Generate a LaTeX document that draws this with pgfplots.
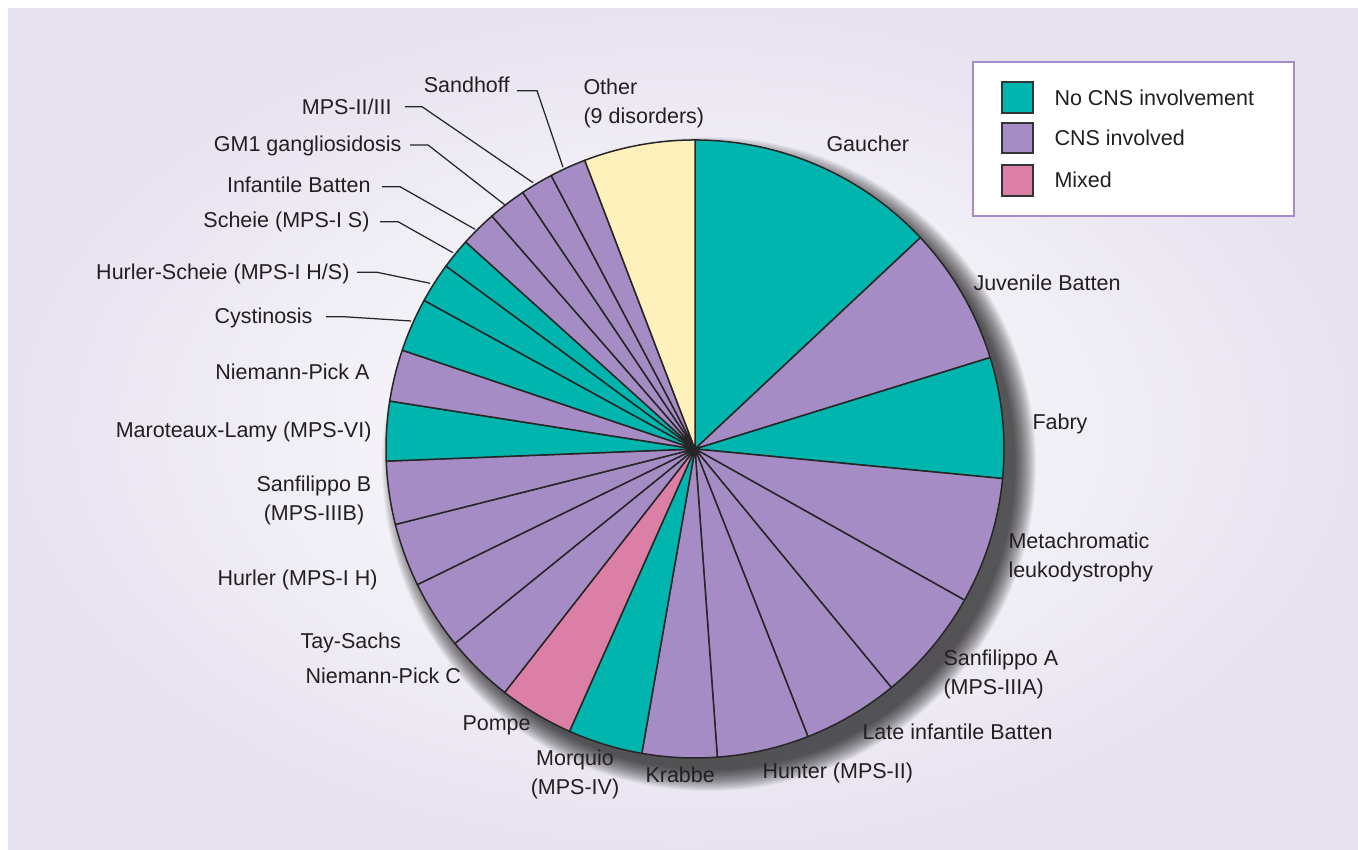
\documentclass[border=0pt]{standalone}
\usepackage{pgfplots}
\pgfplotsset{compat=1.18}
\usepackage{pgfplotstable}
\usepackage{fontspec}
\setmainfont{Liberation Sans}
\definecolor{cnone}{RGB}{0,181,173}
\definecolor{ccns}{RGB}{166,140,196}
\definecolor{cmix}{RGB}{220,127,166}
\definecolor{cother}{RGB}{255,241,187}
\definecolor{bglav}{RGB}{231,227,240}
\definecolor{legframe}{RGB}{165,140,200}
\definecolor{txt}{RGB}{35,31,32}

% share of each disorder (percent), clockwise from 12 o'clock
\pgfplotstableread[col sep=comma]{
name,share,group
Gaucher,13.0,cnone
Juvenile Batten,7.2,ccns
Fabry,6.3,cnone
Metachromatic leukodystrophy,6.6,ccns
Sanfilippo A (MPS-IIIA),5.9,ccns
Late infantile Batten,5.0,ccns
Hunter (MPS-II),4.8,ccns
Krabbe,3.9,ccns
Morquio (MPS-IV),3.9,cnone
Pompe,3.9,cmix
Niemann-Pick C,3.6,ccns
Tay-Sachs,3.6,ccns
Hurler (MPS-I H),3.3,ccns
Sanfilippo B (MPS-IIIB),3.3,ccns
Maroteaux-Lamy (MPS-VI),3.1,cnone
Niemann-Pick A,2.7,ccns
Cystinosis,2.8,cnone
Hurler-Scheie (MPS-I H/S),2.1,cnone
Scheie (MPS-I S),1.6,cnone
Infantile Batten,1.9,ccns
GM1 gangliosidosis,2.0,ccns
MPS-II/III,1.7,ccns
Sandhoff,1.9,ccns
Other (9 disorders),5.8,cother
}\piedata

\begin{document}
\xdef\pietotal{0}%
\pgfplotstableforeachcolumnelement{share}\of\piedata\as\v{%
  \pgfmathsetmacro\tmp{\pietotal+\v}\xdef\pietotal{\tmp}}%
\xdef\piecum{0}%
\pgfplotstableforeachcolumnelement{share}\of\piedata\as\v{%
  \pgfmathsetmacro\tmpa{90-(\piecum/\pietotal)*360}%
  \pgfmathsetmacro\tmpc{\piecum+\v}%
  \pgfmathsetmacro\tmpb{90-(\tmpc/\pietotal)*360}%
  \expandafter\xdef\csname pieA\pgfplotstablerow\endcsname{\tmpa}%
  \expandafter\xdef\csname pieB\pgfplotstablerow\endcsname{\tmpb}%
  \xdef\piecum{\tmpc}}%
\pgfplotstableforeachcolumnelement{group}\of\piedata\as\g{%
  \expandafter\xdef\csname pieC\pgfplotstablerow\endcsname{\g}}%
\begin{tikzpicture}[every node/.style={font=\fontsize{8.6}{11.6}\selectfont, text=txt, inner sep=0pt}]
\begin{axis}[
  width=543.2pt, height=340pt, scale only axis,
  xmin=0, xmax=1358, ymin=0, ymax=850,
  enlargelimits=false, axis lines=none, clip=false,
  xtick=\empty, ytick=\empty]
% background
\fill[white] (axis cs:0,0) rectangle (axis cs:1358,850);
\fill[bglav] (axis cs:8,0) rectangle (axis cs:1358,841);
\shade[inner color=white, outer color=bglav] (axis cs:8,0) rectangle (axis cs:1358,841);
% soft shadow (down-right)
\pgfplotsinvokeforeach{0,...,21}{%
  \fill[black, opacity=0.042] (axis cs:709,386) circle[radius={(305+1.0*(22-#1))*0.4pt}];
}
% wedges
\pgfplotsinvokeforeach{0,...,23}{%
  \filldraw[fill=\csname pieC#1\endcsname, draw=black!85, line width=0.6pt, line join=round]
   (axis cs:695,401) -- ++(\csname pieA#1\endcsname:123.6pt)
   arc[start angle=\csname pieA#1\endcsname, end angle=\csname pieB#1\endcsname, radius=123.6pt] -- cycle;
}
% leader lines
\begin{scope}[draw=black!85, line width=0.5pt]
\draw (axis cs:517,759.3) -- (axis cs:537,759.3) -- (axis cs:563,682.7);
\draw (axis cs:405,743.3) -- (axis cs:422,743.3) -- (axis cs:533,667.3);
\draw (axis cs:410,705) -- (axis cs:428,705) -- (axis cs:505,645);
\draw (axis cs:382,663.3) -- (axis cs:400,663.3) -- (axis cs:475,620.7);
\draw (axis cs:380,628.3) -- (axis cs:398,628.3) -- (axis cs:453,597.3);
\draw (axis cs:357,577.7) -- (axis cs:377,577.7) -- (axis cs:430,566.7);
\draw (axis cs:326,533.3) -- (axis cs:343,533.3) -- (axis cs:411,529);
\end{scope}
% labels
\node[anchor=west] at (axis cs:826,706) {Gaucher};
\node[anchor=west] at (axis cs:973,567) {Juvenile Batten};
\node[anchor=west] at (axis cs:1032,426) {Fabry};
\node[anchor=west, align=left] at (axis cs:1008,293) {Metachromatic\\leukodystrophy};
\node[anchor=west, align=left] at (axis cs:943,176) {Sanfilippo A\\(MPS-IIIA)};
\node[anchor=west] at (axis cs:862,118) {Late infantile Batten};
\node[anchor=west] at (axis cs:762,77) {Hunter (MPS-II)};
\node[anchor=west] at (axis cs:645,75) {Krabbe};
\node[align=center] at (axis cs:575,76) {Morquio\\(MPS-IV)};
\node[anchor=west] at (axis cs:462,125) {Pompe};
\node[anchor=west] at (axis cs:305,174) {Niemann-Pick C};
\node[anchor=west] at (axis cs:300,207) {Tay-Sachs};
\node[anchor=west] at (axis cs:217,270) {Hurler (MPS-I H)};
\node[align=center] at (axis cs:314,350) {Sanfilippo B\\(MPS-IIIB)};
\node[anchor=east] at (axis cs:372,418) {Maroteaux-Lamy (MPS-VI)};
\node[anchor=east] at (axis cs:370,478) {Niemann-Pick A};
\node[anchor=east] at (axis cs:313,532) {Cystinosis};
\node[anchor=east] at (axis cs:350,576) {Hurler-Scheie (MPS-I H/S)};
\node[anchor=east] at (axis cs:370,628) {Scheie (MPS-I S)};
\node[anchor=east] at (axis cs:371,665) {Infantile Batten};
\node[anchor=east] at (axis cs:402,704) {GM1 gangliosidosis};
\node[anchor=east] at (axis cs:392,743) {MPS-II/III};
\node[anchor=east] at (axis cs:510,765) {Sandhoff};
\node[anchor=west, align=left] at (axis cs:583,747) {Other\\(9 disorders)};
% legend
\filldraw[fill=white, draw=legframe, line width=0.8pt] (axis cs:973,788) rectangle (axis cs:1294,634);
\filldraw[fill=cnone, draw=black!80, line width=0.5pt] (axis cs:1002,768) rectangle (axis cs:1033,737);
\filldraw[fill=ccns, draw=black!80, line width=0.5pt] (axis cs:1002,727) rectangle (axis cs:1033,697);
\filldraw[fill=cmix, draw=black!80, line width=0.5pt] (axis cs:1002,685) rectangle (axis cs:1033,654);
\node[anchor=west] at (axis cs:1054,752) {No CNS involvement};
\node[anchor=west] at (axis cs:1054,712) {CNS involved};
\node[anchor=west] at (axis cs:1054,670) {Mixed};
\end{axis}
\end{tikzpicture}
\end{document}
